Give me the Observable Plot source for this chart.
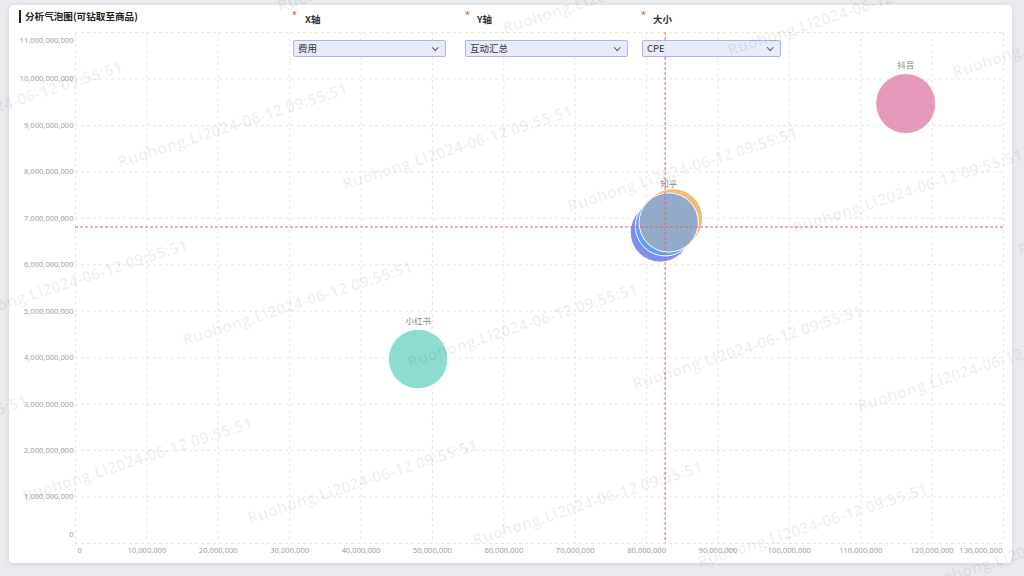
<!DOCTYPE html>
<html><head><meta charset="utf-8">
<script src="https://cdn.jsdelivr.net/npm/d3@7"></script>
<script src="https://cdn.jsdelivr.net/npm/@observablehq/plot@0.6"></script>
<style>
html,body{margin:0;padding:0;width:1024px;height:576px;overflow:hidden;background:#e9ebef;font-family:"Noto Sans","Noto Sans CJK SC",sans-serif;}
#card{position:absolute;left:9px;top:5px;width:1003px;height:558px;background:#fff;border-radius:4px;box-shadow:0 1px 5px rgba(0,0,0,0.12);}
#chart{position:absolute;left:0;top:0;}
#title{position:absolute;left:19px;top:10px;height:13px;border-left:2px solid #222;padding-left:4px;font-size:9.6px;font-weight:bold;color:#222;line-height:13px;font-family:"Noto Sans CJK SC",sans-serif;}
.lab{position:absolute;top:13px;font-size:9.5px;font-weight:bold;color:#333;line-height:13px;font-family:"Noto Sans CJK SC",sans-serif;}
.star{position:absolute;top:10px;color:#e54545;font-size:9px;line-height:10px;}
.sel{position:absolute;top:40px;height:17px;box-sizing:border-box;border:1px solid #a7b5f0;background:rgba(228,233,252,0.9);border-radius:2px;font-size:9.5px;color:#333;line-height:15px;padding-left:4px;font-family:"Noto Sans CJK SC",sans-serif;}
.chev{position:absolute;right:8px;top:4px;width:3.5px;height:3.5px;border-right:1px solid #555;border-bottom:1px solid #555;transform:rotate(45deg);}
#wm{position:absolute;left:0;top:0;width:1024px;height:576px;overflow:hidden;pointer-events:none;}
#wm span{position:absolute;white-space:nowrap;font-family:"Open Sans",sans-serif;font-weight:bold;font-size:16px;line-height:16px;color:rgba(0,0,0,0.06);transform-origin:0 100%;transform:rotate(-18deg);}
</style></head>
<body>
<div id="card"></div>
<div id="chart"></div>
<div id="title">分析气泡图(可钻取至商品)</div>
<div class="star" style="left:292px">*</div><div class="lab" style="left:305px">X轴</div>
<div class="star" style="left:465px">*</div><div class="lab" style="left:477px">Y轴</div>
<div class="star" style="left:641px">*</div><div class="lab" style="left:653px">大小</div>
<div class="sel" style="left:293px;width:153px">费用<div class="chev"></div></div>
<div class="sel" style="left:465px;width:163px">互动汇总<div class="chev"></div></div>
<div class="sel" style="left:642px;width:139px">CPE<div class="chev"></div></div>
<div id="wm"></div>
<script>
// data
const names = ["微博", "B站", "微信", "知乎", "抖音", "小红书"];
const cost = [81.9e6, 82.6e6, 83.7e6, 83.1e6, 116.3e6, 48.0e6];          // 费用
const interact = [6.70e9, 6.83e9, 7.00e9, 6.91e9, 9.47e9, 3.97e9];       // 互动汇总
const cpe = [0.0122, 0.0121, 0.0120, 0.0120, 0.0123, 0.0121];            // CPE
const colors = ["#7f8ff0", "#62a0f7", "#f5b97a", "#93abc8", "#e598ba", "#8ddcd1"];
const showLabel = [false, false, false, true, true, true];
const xTicks = d3.range(0, 14).map(i => i * 10e6);
const yTicks = d3.range(0, 12).map(i => i * 1e9);
const watermark = "Ruohong.Li2024-06-12 09:55:51";

const idx = d3.range(names.length);
const fmt = d3.format(",");
const tickFont = 7.6;
const tickColor = "#a0a0a0";
const gridColor = "#e6e6e6";

const chart = Plot.plot({
  width: 1024, height: 576,
  marginLeft: 75, marginRight: 21, marginTop: 32, marginBottom: 33,
  x: {domain: [0, 130e6], axis: null},
  y: {domain: [0, 11e9], axis: null},
  r: {type: "sqrt", domain: [0, 0.0123], range: [0, 30]},
  color: {type: "identity"},
  style: {background: "transparent", fontFamily: "'Noto Sans', sans-serif", overflow: "visible"},
  marks: [
    Plot.gridX(xTicks, {stroke: gridColor, strokeOpacity: 1, strokeDasharray: "3,3"}),
    Plot.gridY(yTicks, {stroke: gridColor, strokeOpacity: 1, strokeDasharray: "3,3"}),
    Plot.axisY(yTicks.slice(1, 11), {tickSize: 0, tickPadding: 2, tickFormat: fmt, fontSize: tickFont, color: tickColor}),
    Plot.axisY([yTicks[11]], {tickSize: 0, tickPadding: 2, tickFormat: fmt, fontSize: tickFont, color: tickColor, dy: 8}),
    Plot.axisY([yTicks[0]], {tickSize: 0, tickPadding: 2, tickFormat: fmt, fontSize: tickFont, color: tickColor, dy: -8.5}),
    Plot.axisX(xTicks.slice(1, 13), {tickSize: 0, tickPadding: 4, tickFormat: fmt, fontSize: tickFont, color: tickColor}),
    Plot.axisX([xTicks[0]], {tickSize: 0, tickPadding: 4, tickFormat: fmt, fontSize: tickFont, color: tickColor, textAnchor: "start", dx: 2}),
    Plot.axisX([xTicks[13]], {tickSize: 0, tickPadding: 4, tickFormat: fmt, fontSize: tickFont, color: tickColor, textAnchor: "end", dx: -1}),
    Plot.dot(idx, {x: i => cost[i], y: i => interact[i], r: i => cpe[i], fill: i => colors[i], fillOpacity: 1, stroke: "#fff", strokeWidth: 1, sort: null}),
    Plot.text(idx.filter(i => showLabel[i]), {x: i => cost[i], y: i => interact[i], text: i => names[i], dy: -38, fill: "#888", fontSize: 8.5, fontFamily: "'Noto Sans CJK SC', sans-serif"}),
    Plot.ruleX([d3.mean(cost)], {stroke: "#e06070", strokeWidth: 1, strokeDasharray: "3,2"}),
    Plot.ruleY([d3.mean(interact)], {stroke: "#e06070", strokeWidth: 1, strokeDasharray: "3,2"})
  ]
});
document.getElementById("chart").appendChild(chart);

// watermark layer
const wm = document.getElementById("wm");
for (let r = -1; r <= 3; r++) {
  for (let i = -2; i <= 5; i++) {
    const sx = 55 + 65 * r + 225 * i;
    const sy = -8 + 178 * r + 22 * i;
    if (sx > 1030 || sx < -300 || sy < -20 || sy > 700) continue;
    const s = document.createElement("span");
    s.textContent = watermark;
    s.style.left = sx + "px";
    s.style.top = (sy - 16) + "px";
    wm.appendChild(s);
  }
}
</script>
</body></html>
